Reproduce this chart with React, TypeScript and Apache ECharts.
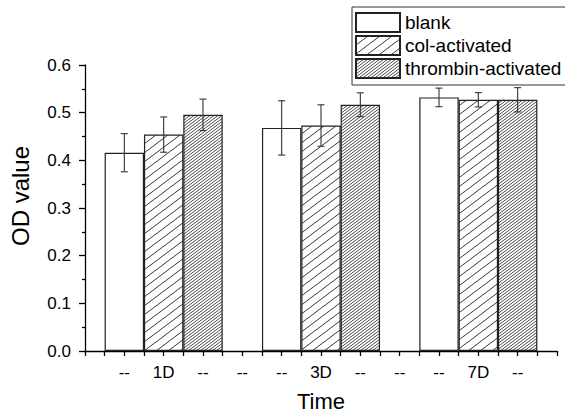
import React, { useEffect, useRef } from "react";
import * as echarts from "echarts";

const tickLabels = ["", "--", "1D", "--", "--", "--", "3D", "--", "--", "--", "7D", "--", ""];
const groups = ["1D", "3D", "7D"];
const seriesNames = ["blank", "col-activated", "thrombin-activated"];
const blankValues = [0.416, 0.468, 0.532];
const blankErrors = [0.04, 0.057, 0.0195];
const colValues = [0.454, 0.473, 0.527];
const colErrors = [0.037, 0.0435, 0.015];
const thrombinValues = [0.4955, 0.5166, 0.527];
const thrombinErrors = [0.033, 0.025, 0.0255];

const FONT = "'Liberation Sans', Arial, sans-serif";

function hatch(w: number, h: number, lw: number) {
  const c = document.createElement("canvas");
  c.width = w;
  c.height = h;
  const ctx = c.getContext("2d")!;
  ctx.fillStyle = "#fff";
  ctx.fillRect(0, 0, w, h);
  ctx.strokeStyle = "#222";
  ctx.lineWidth = lw;
  for (const off of [-w, 0, w]) {
    ctx.beginPath();
    ctx.moveTo(off - 1, h + h / w);
    ctx.lineTo(off + w + 1, -h / w);
    ctx.stroke();
  }
  return { image: c.toDataURL(), repeat: "repeat", imageWidth: w, imageHeight: h } as any;
}

export default function App() {
  const ref = useRef<HTMLDivElement>(null);
  useEffect(() => {
    const chart = echarts.init(ref.current!, null, { renderer: "svg" });
    const valueSets = [blankValues, colValues, thrombinValues];
    const errorSets = [blankErrors, colErrors, thrombinErrors];
    const fills: any[] = ["#fff", hatch(12, 9, 0.9), hatch(4, 3, 0.8)];
    // position of each bar along the x axis: group g, series s -> 4g + 1 + s
    const pos = (g: number, s: number) => 4 * g + 1 + s;

    const barSeries = seriesNames.map((name, s) => ({
      name,
      type: "bar",
      barWidth: 39.4,
      barGap: "-100%",
      itemStyle: { color: fills[s], borderColor: "#222", borderWidth: 1.2 },
      data: groups.map((_, g) => [pos(g, s), valueSets[s][g]]),
      z: 2,
    }));

    const errData: number[][] = [];
    seriesNames.forEach((_, s) =>
      groups.forEach((__, g) => errData.push([pos(g, s), valueSets[s][g], errorSets[s][g]]))
    );

    const option: any = {
      animation: false,
      grid: { left: 84, right: 8, top: 65, bottom: 57 },
      legend: {
        data: seriesNames.map((n) => ({ name: n, icon: "rect" })),
        orient: "vertical",
        left: 352,
        top: 7,
        padding: [5, 30, 6, 3],
        itemWidth: 44,
        itemHeight: 19,
        itemGap: 2,
        borderColor: "#333",
        borderWidth: 1,
        textStyle: { fontSize: 19, fontFamily: FONT, color: "#000", padding: [0, 0, 0, 0] },
      },
      xAxis: {
        type: "value",
        min: 0,
        max: 12,
        interval: 1,
        name: "Time",
        nameLocation: "middle",
        nameGap: 39,
        nameTextStyle: { fontSize: 22, fontFamily: FONT, color: "#000" },
        axisLine: { show: true, lineStyle: { color: "#000", width: 1.3 } },
        axisTick: { show: true, inside: false, length: 5, lineStyle: { color: "#000", width: 1.3 } },
        minorTick: { show: true, splitNumber: 2, length: 5, lineStyle: { color: "#000", width: 1.3 } },
        splitLine: { show: false },
        axisLabel: {
          margin: 13,
          fontSize: 17,
          fontFamily: FONT,
          color: "#000",
          formatter: (v: number) => tickLabels[Math.round(v)] ?? "",
        },
      },
      yAxis: {
        type: "value",
        min: 0,
        max: 0.6,
        interval: 0.1,
        name: "OD value",
        nameLocation: "middle",
        nameGap: 53,
        nameTextStyle: { fontSize: 24, fontFamily: FONT, color: "#000", padding: [0, 0, 0, 24] },
        axisLine: { show: true, lineStyle: { color: "#000", width: 1.3 } },
        axisTick: { show: true, inside: false, length: 6, lineStyle: { color: "#000", width: 1.3 } },
        minorTick: { show: true, splitNumber: 2, length: 3, lineStyle: { color: "#000", width: 1.3 } },
        splitLine: { show: false },
        axisLabel: {
          margin: 14,
          fontSize: 17,
          fontFamily: FONT,
          color: "#000",
          formatter: (v: number) => v.toFixed(1),
        },
      },
      series: [
        ...barSeries,
        {
          type: "custom",
          name: "errors",
          z: 5,
          encode: { x: 0, y: 1 },
          data: errData,
          renderItem: (params: any, api: any) => {
            const x = api.value(0);
            const m = api.value(1);
            const e = api.value(2);
            const top = api.coord([x, m + e]);
            const bot = api.coord([x, m - e]);
            const cap = 3.5;
            const style = { stroke: "#333", lineWidth: 1.1 };
            return {
              type: "group",
              children: [
                { type: "line", shape: { x1: top[0], y1: top[1], x2: bot[0], y2: bot[1] }, style },
                { type: "line", shape: { x1: top[0] - cap, y1: top[1], x2: top[0] + cap, y2: top[1] }, style },
                { type: "line", shape: { x1: bot[0] - cap, y1: bot[1], x2: bot[0] + cap, y2: bot[1] }, style },
              ],
            };
          },
        },
      ],
    };
    chart.setOption(option);
    return () => chart.dispose();
  }, []);
  return <div ref={ref} style={{ width: 565, height: 417, position: "absolute", left: 0, top: 0 }} />;
}
